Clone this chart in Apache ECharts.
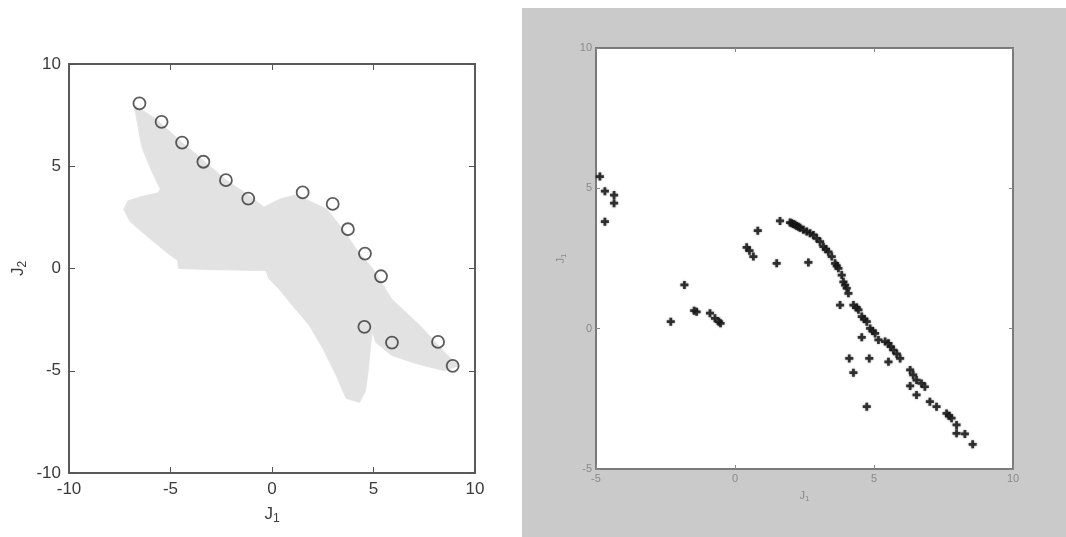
<!DOCTYPE html>
<html><head><meta charset="utf-8">
<script src="https://cdn.jsdelivr.net/npm/echarts@6/dist/echarts.min.js"></script>
<style>html,body{margin:0;padding:0;background:#fff}#c{width:1066px;height:537px}</style>
</head><body><div id="c"></div>
<script>
// Left panel: outline of the grey cloud of solutions (J1, J2)
const cloudX = [-6.8, -5.7, -4.6, -3.4, -2.3, -1.1, -0.4, 0.4, 1.2, 2.7, 3.5, 4.15, 4.95, 5.9, 7.3, 8.6, 9.2, 8.5, 7.1, 5.9, 5.1, 4.95, 4.85, 4.75, 4.6, 4.3, 3.65, 3.15, 2.5, 1.85, 1.0, 0.35, -0.15, -0.3, -3.1, -4.6, -4.65, -5.2, -6.0, -7.0, -7.3, -7.1, -6.5, -5.6, -5.5, -5.9, -6.4, -6.7];
const cloudY = [8.0, 7.3, 6.3, 5.3, 4.35, 3.55, 3.0, 3.4, 3.6, 2.9, 1.9, 0.95, 0.0, -1.5, -2.8, -4.2, -4.75, -5.0, -4.65, -4.25, -3.6, -3.05, -3.8, -4.9, -6.0, -6.55, -6.35, -5.2, -3.9, -2.8, -1.8, -1.0, -0.5, -0.1, -0.05, 0.0, 0.4, 0.8, 1.45, 2.3, 2.9, 3.3, 3.5, 3.7, 3.9, 4.7, 5.9, 7.5];
// Left panel: circled points
const circleX = [-6.53, -5.44, -4.43, -3.38, -2.27, -1.17, 1.51, 2.99, 3.74, 4.58, 5.37, 4.55, 5.91, 8.18, 8.9];
const circleY = [8.07, 7.17, 6.16, 5.22, 4.32, 3.42, 3.72, 3.16, 1.92, 0.73, -0.38, -2.85, -3.62, -3.59, -4.76];
// Right panel: star points
const starX = [-4.86, -4.68, -4.35, -4.35, -4.68, -1.82, -2.31, -1.47, -1.38, -0.9, -0.72, -0.58, -0.52, 0.42, 0.52, 0.66, 0.82, 1.5, 1.62, 2.64,
  1.98, 2.04, 2.1, 2.16, 2.22, 2.28, 2.34, 2.46, 2.58, 2.7, 2.82, 2.94, 3.06, 3.18, 3.27, 3.36, 3.48, 3.6, 3.66, 3.72, 3.84, 3.9, 3.96, 4.02, 4.08,
  3.78, 4.26, 4.38, 4.44, 4.56, 4.65, 4.74, 4.86, 4.95, 5.04, 5.16, 5.4, 5.52, 5.6, 5.7, 5.82, 5.94, 4.56, 4.11, 4.83, 5.52, 4.26,
  6.3, 6.41, 6.53, 6.3, 6.71, 6.83, 6.53, 7.01, 7.25, 4.74, 7.61, 7.7, 7.79, 7.97, 7.97, 8.27, 8.55];
const starY = [5.42, 4.9, 4.76, 4.47, 3.81, 1.56, 0.25, 0.64, 0.6, 0.55, 0.37, 0.25, 0.19, 2.9, 2.78, 2.57, 3.49, 2.33, 3.84, 2.36,
  3.78, 3.76, 3.73, 3.7, 3.66, 3.63, 3.6, 3.52, 3.46, 3.4, 3.34, 3.22, 3.1, 2.92, 2.83, 2.74, 2.57, 2.33, 2.24, 2.15, 1.91, 1.67, 1.55, 1.44, 1.26,
  0.84, 0.84, 0.75, 0.67, 0.43, 0.34, 0.25, 0.01, -0.08, -0.17, -0.4, -0.46, -0.52, -0.64, -0.76, -0.9, -1.06, -0.31, -1.06, -1.06, -1.18, -1.57,
  -1.47, -1.65, -1.83, -2.04, -1.95, -2.07, -2.36, -2.6, -2.78, -2.78, -3.02, -3.1, -3.19, -3.43, -3.73, -3.75, -4.12];
const leftRange = [-10, 10];
const rightRange = [-5, 10];
const tickStep = 5;

const chart = echarts.init(document.getElementById('c'), null, {renderer: 'canvas'});

function axisCommon(range, gridIndex, position, showLabel, left) {
  return {
    type: 'value', gridIndex, position, min: range[0], max: range[1], interval: tickStep,
    axisLine: {show: false, onZero: false},
    axisTick: {show: true, inside: true, length: left ? 6 : 4, lineStyle: {color: left ? '#555' : '#888', width: 1}},
    splitLine: {show: false},
    axisLabel: showLabel ? (left ? {color: '#3a3a3a', fontSize: 17, fontFamily: 'Liberation Sans, Arial, sans-serif', margin: 8}
                                 : {color: '#8a8a8a', fontSize: 11, fontFamily: 'Liberation Sans, Arial, sans-serif', margin: 4})
                         : {show: false}
  };
}
const nameRichL = {j: {fontSize: 17, color: '#3a3a3a', fontFamily: 'Liberation Sans, Arial, sans-serif'},
                   s: {fontSize: 12, color: '#3a3a3a', fontFamily: 'Liberation Sans, Arial, sans-serif', padding: [10, 0, 0, 0]}};
const nameRichR = {j: {fontSize: 11, color: '#8a8a8a', fontFamily: 'Liberation Sans, Arial, sans-serif'},
                   s: {fontSize: 8, color: '#8a8a8a', fontFamily: 'Liberation Sans, Arial, sans-serif', padding: [6, 0, 0, 0]}};

const xL = axisCommon(leftRange, 0, 'bottom', true, true);
Object.assign(xL, {name: '{j|J}{s|1}', nameLocation: 'middle', nameGap: 30, nameTextStyle: {rich: nameRichL}});
const xLt = axisCommon(leftRange, 0, 'top', false, true);
const yL = axisCommon(leftRange, 0, 'left', true, true);
Object.assign(yL, {name: '{j|J}{s|2}', nameLocation: 'middle', nameGap: 40, nameTextStyle: {rich: nameRichL}});
const yLr = axisCommon(leftRange, 0, 'right', false, true);

const xR = axisCommon(rightRange, 1, 'bottom', true, false);
Object.assign(xR, {name: '{j|J}{s|1}', nameLocation: 'middle', nameGap: 20, nameTextStyle: {rich: nameRichR}});
const xRt = axisCommon(rightRange, 1, 'top', false, false);
const yR = axisCommon(rightRange, 1, 'left', true, false);
Object.assign(yR, {name: '{j|J}{s|1}', nameLocation: 'middle', nameGap: 28, nameTextStyle: {rich: nameRichR}});
const yRr = axisCommon(rightRange, 1, 'right', false, false);

const option = {
  backgroundColor: '#ffffff',
  animation: false,
  graphic: [{type: 'rect', left: 522, top: 8, z: -100, silent: true, shape: {width: 544, height: 529}, style: {fill: '#cacaca'}}],
  grid: [
    {left: 69, top: 64, width: 406, height: 409, show: true, borderColor: '#5a5a5a', borderWidth: 2, backgroundColor: '#ffffff'},
    {left: 596, top: 48, width: 417, height: 421, show: true, borderColor: '#7a7a7a', borderWidth: 2, backgroundColor: '#ffffff'}
  ],
  xAxis: [xL, xLt, xR, xRt],
  yAxis: [yL, yLr, yR, yRr],
  series: [
    {
      type: 'custom', xAxisIndex: 0, yAxisIndex: 0, data: [0], silent: true, z: 1,
      renderItem: function (params, api) {
        const pts = cloudX.map((x, i) => api.coord([x, cloudY[i]]));
        return {type: 'polygon', shape: {points: pts}, style: {fill: '#e2e2e2', stroke: '#e4e4e4', lineWidth: 1}};
      }
    },
    {
      type: 'scatter', xAxisIndex: 0, yAxisIndex: 0, z: 3,
      data: circleX.map((x, i) => [x, circleY[i]]),
      symbol: 'circle', symbolSize: 12,
      itemStyle: {color: 'rgba(0,0,0,0)', borderColor: '#333', borderWidth: 1.8}
    },
    {
      type: 'scatter', xAxisIndex: 2, yAxisIndex: 2, z: 3,
      data: starX.map((x, i) => [x, starY[i]]),
      symbol: 'path://M3.3,0H6.7V3.3H10V6.7H6.7V10H3.3V6.7H0V3.3H3.3Z', symbolSize: 8,
      itemStyle: {color: '#1a1a1a', opacity: 0.85, shadowBlur: 2, shadowColor: 'rgba(0,0,0,0.5)'}
    }
  ]
};
chart.setOption(option);
</script>
</body></html>
